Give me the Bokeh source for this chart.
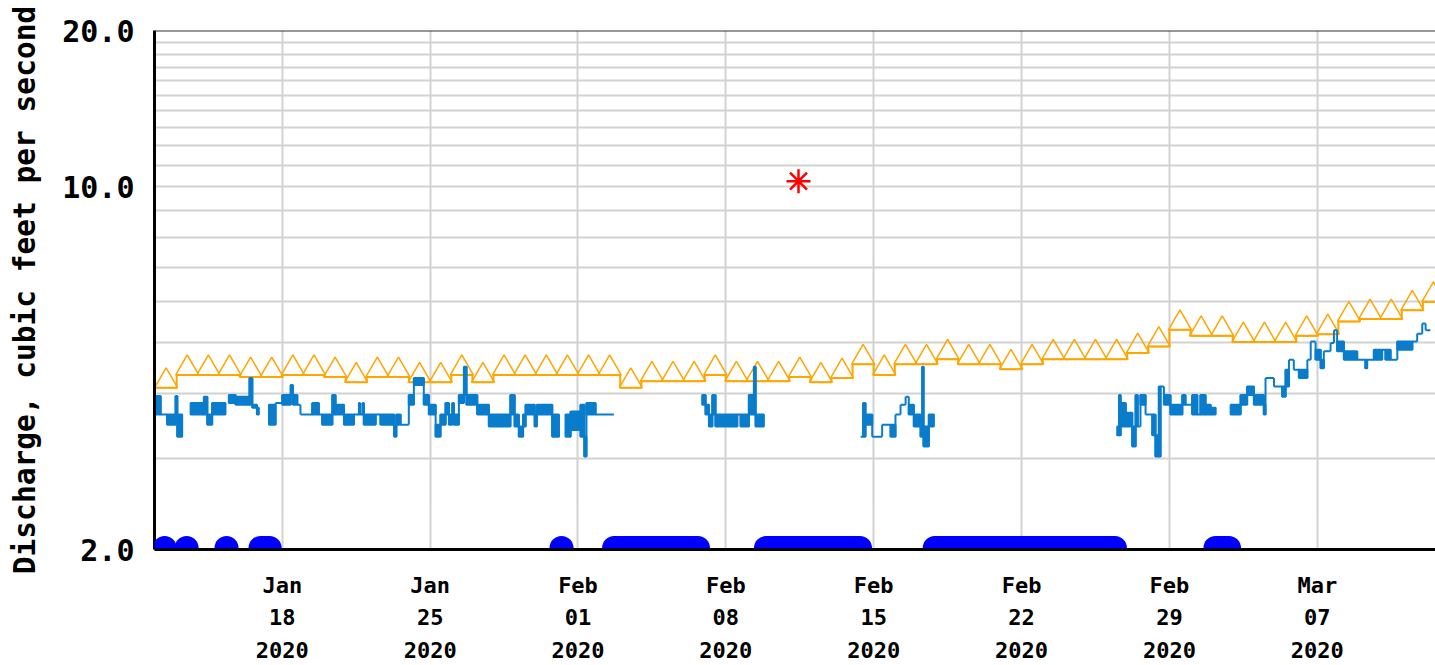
import math
import numpy as np
from bokeh.plotting import figure
from bokeh.models import FixedTicker, NumeralTickFormatter, Span, BoxAnnotation
from bokeh.embed import file_html
from bokeh.resources import INLINE

nan = float("nan")

# ---------------- data ----------------
START_DATE = "2020-01-12"          # x = days since this date (00:00)
x_tick_days = [6, 13, 20, 27, 34, 41, 48, 55]
x_tick_labels = ["Jan\n18\n2020", "Jan\n25\n2020", "Feb\n01\n2020", "Feb\n08\n2020",
                 "Feb\n15\n2020", "Feb\n22\n2020", "Feb\n29\n2020", "Mar\n07\n2020"]
y_tick_values = [2, 10, 20]
y_grid_values = [3, 4, 5, 6, 7, 8, 9, 10, 11, 12, 13, 14, 15, 16, 17, 18, 19]
y_title = "Discharge, cubic feet per second"

# daily median discharge (orange triangles), one value per day from Jan 12
median_day = list(range(61))
median_cfs = [4.10, 4.34, 4.34, 4.34, 4.30, 4.30, 4.34, 4.34, 4.30, 4.20,
              4.30, 4.30, 4.20, 4.20, 4.34, 4.20, 4.34, 4.34, 4.34, 4.34,
              4.34, 4.34, 4.10, 4.22, 4.22, 4.22, 4.34, 4.22, 4.22, 4.22,
              4.30, 4.20, 4.28, 4.55, 4.34, 4.55, 4.55, 4.65, 4.55, 4.55,
              4.45, 4.55, 4.65, 4.65, 4.65, 4.65, 4.78, 4.92, 5.30, 5.16,
              5.16, 5.02, 5.02, 5.02, 5.16, 5.20, 5.50, 5.56, 5.56, 5.78,
              6.00]

# instantaneous discharge (blue): segment start day, low and high value in that segment
blue_t = [0.00, 0.24, 0.55, 0.95, 1.03, 1.26, 1.66, 2.29, 2.45, 2.68,
          3.31, 3.47, 3.79, 4.45, 4.58, 4.80, 4.89, 5.37, 5.68, 6.00,
          6.40, 6.50, 6.71, 6.86, 7.42, 7.73, 7.89, 8.37, 8.52, 8.92,
          9.39, 9.63, 9.68, 9.80, 9.86, 10.42, 10.65, 11.30, 11.40, 11.60,
          11.99, 12.23, 12.70, 12.94, 13.26, 13.49, 13.73, 13.89, 14.05, 14.12,
          14.36, 14.60, 14.72, 15.23, 15.78, 16.80, 17.00, 17.20, 17.40, 17.52,
          17.95, 18.05, 18.78, 19.10, 19.41, 19.65, 20.12, 20.30, 20.40, 20.83,
          21.70, 25.88, 26.04, 26.20, 26.36, 26.51, 27.54, 27.70, 28.09, 28.33,
          28.41, 28.80, 33.38, 33.50, 33.61, 33.93, 34.40, 34.80, 35.03, 35.27,
          35.51, 35.66, 35.90, 36.22, 36.30, 36.36, 36.61, 36.85, 45.53, 45.62,
          45.69, 45.93, 46.24, 46.40, 46.50, 46.63, 46.87, 47.19, 47.34, 47.50,
          47.58, 47.74, 48.05, 48.61, 48.76, 49.08, 49.32, 49.47, 49.71, 49.95,
          50.19, 50.90, 51.37, 51.68, 52.00, 52.47, 52.55, 52.95, 53.34, 53.50,
          53.66, 53.89, 54.13, 54.53, 54.69, 54.92, 55.16, 55.31, 55.63, 55.79,
          55.94, 56.26, 56.89, 57.28, 57.36, 57.68, 58.07, 58.23, 58.47, 58.79,
          59.50, 59.73, 59.97, 60.13, 60.36]
blue_lo = [3.64, 3.64, 3.48, 3.64, 3.30, nan, 3.64, 3.64, 3.48, 3.64,
           nan, 3.83, 3.80, 3.80, 3.75, 3.64, nan, 3.48, 3.83, 3.80,
           3.97, 3.80, 3.80, 3.64, 3.64, 3.64, 3.48, 3.64, 3.64, 3.48,
           3.64, 3.64, 3.64, 3.64, 3.48, 3.64, 3.48, 3.30, 3.48, 3.48,
           3.80, 4.15, 3.80, 3.64, 3.30, 3.48, 3.64, 3.48, 3.64, 3.48,
           3.83, 3.97, 3.80, 3.64, 3.45, 3.64, 3.45, 3.30, 3.45, 3.64,
           3.45, 3.64, 3.30, nan, 3.30, 3.40, 3.30, 3.02, 3.64, 3.64,
           nan, 3.80, 3.64, 3.45, 3.64, 3.45, 3.64, 3.45, 3.64, 3.64,
           3.45, nan, 3.30, 3.30, 3.48, 3.30, 3.48, 3.30, 3.64, 3.80,
           3.94, 3.64, 3.45, 3.30, 3.45, 3.16, 3.45, nan, 3.32, 3.32,
           3.45, 3.45, 3.16, 3.45, 3.45, 3.80, 3.64, 3.32, 3.02, 3.02,
           4.12, 3.80, 3.64, 3.80, 3.80, 3.64, 3.64, 3.64, 3.64, 3.64,
           nan, 3.64, 3.80, 3.97, 3.80, 3.64, 4.28, 4.12, 3.94, 4.12,
           4.64, 4.44, 4.28, 4.64, 5.03, 4.64, 4.47, 4.82, 5.00, 5.29,
           4.82, 4.64, 4.64, 4.47, 4.64, 4.64, 4.85, 4.64, 4.64, 4.85,
           5.03, 5.21, 5.45, 5.29, nan]
blue_hi = [3.95, 3.64, 3.64, 3.95, 3.64, nan, 3.83, 3.94, 3.64, 3.83,
           nan, 3.97, 3.94, 4.28, 3.80, 3.75, nan, 3.80, 3.83, 3.97,
           4.15, 3.97, 3.80, 3.64, 3.83, 3.64, 3.64, 3.97, 3.80, 3.64,
           3.64, 3.83, 3.64, 3.83, 3.64, 3.64, 3.64, 3.48, 3.64, 3.48,
           3.97, 4.28, 3.97, 3.80, 3.48, 3.64, 3.83, 3.64, 3.83, 3.64,
           3.97, 4.50, 3.97, 3.80, 3.64, 3.97, 3.64, 3.45, 3.64, 3.80,
           3.64, 3.80, 3.64, nan, 3.64, 3.69, 3.80, 3.30, 3.83, 3.64,
           nan, 3.97, 3.80, 3.64, 3.97, 3.64, 3.64, 3.64, 3.97, 4.50,
           3.64, nan, 3.30, 3.83, 3.64, 3.30, 3.48, 3.48, 3.64, 3.80,
           3.94, 3.80, 3.64, 3.45, 4.50, 3.45, 3.64, nan, 3.45, 3.97,
           3.83, 3.67, 3.45, 3.97, 3.45, 3.97, 3.64, 3.64, 3.32, 4.12,
           4.12, 3.97, 3.80, 3.97, 3.80, 3.97, 3.64, 3.97, 3.80, 3.75,
           nan, 3.80, 3.97, 4.12, 3.97, 3.80, 4.28, 4.12, 4.12, 4.44,
           4.64, 4.44, 4.44, 4.64, 5.03, 4.85, 4.64, 4.82, 5.00, 5.29,
           5.03, 4.82, 4.64, 4.64, 4.64, 4.85, 4.85, 4.85, 4.64, 5.03,
           5.03, 5.21, 5.45, 5.29, nan]

# periods flagged at the bottom of the chart (blue dots), first and last dot centre
flag_start = [0.43, 1.47, 3.36, 4.97, 19.22, 21.71, 28.90, 36.89, 50.18]
flag_end = [0.43, 1.47, 3.36, 5.40, 19.22, 25.68, 33.35, 45.42, 50.82]

# single red asterisk (peak)
peak_day = [30.44]
peak_cfs = [10.25]

# ---------------- styling ----------------
FONT = "DejaVu Sans Mono"
BLUE = "#0a7ccc"
ORANGE = "#ffa500"
DOT_BLUE = "#0000ff"
GRID = "#d2d2d2"

W, H = 1435, 665
BORDER_LEFT, BORDER_TOP, BORDER_BOTTOM = 154, 30, 115
FRAME_W = W - BORDER_LEFT
FRAME_H = H - BORDER_TOP - BORDER_BOTTOM
PX_PER_DAY = 21.122
X0 = -0.05
X1 = X0 + FRAME_W / PX_PER_DAY
Y0, Y1 = 2.0, 20.0
PX_PER_DECADE = FRAME_H / math.log10(Y1 / Y0)

p = figure(width=W, height=H, output_backend="svg", toolbar_location=None,
           y_axis_type="log", x_range=(X0, X1), y_range=(Y0, Y1),
           min_border_left=BORDER_LEFT, min_border_right=0,
           min_border_top=BORDER_TOP, min_border_bottom=BORDER_BOTTOM)
p.outline_line_color = None
p.background_fill_color = "white"
p.border_fill_color = "white"

# axes
xa = p.xaxis[0]
xa.ticker = FixedTicker(ticks=x_tick_days)
xa.major_label_overrides = dict(zip(x_tick_days, x_tick_labels))
xa.major_tick_in = 0
xa.major_tick_out = 0
xa.minor_tick_line_color = None
xa.axis_line_color = "black"
xa.axis_line_width = 3
xa.major_label_text_font = FONT
xa.major_label_text_font_style = "bold"
xa.major_label_text_font_size = "22px"
xa.major_label_text_line_height = 1.3
xa.major_label_text_color = "black"
xa.major_label_standoff = 23

ya = p.yaxis[0]
ya.ticker = FixedTicker(ticks=y_tick_values)
ya.formatter = NumeralTickFormatter(format="0.0")
ya.major_tick_in = 0
ya.major_tick_out = 0
ya.minor_tick_line_color = None
ya.axis_line_color = "black"
ya.axis_line_width = 3
ya.major_label_text_font = FONT
ya.major_label_text_font_style = "bold"
ya.major_label_text_font_size = "30px"
ya.major_label_text_color = "black"
ya.major_label_standoff = 20
ya.axis_label = y_title
ya.axis_label_text_font = FONT
ya.axis_label_text_font_style = "bold"
ya.axis_label_text_font_size = "29.5px"
ya.axis_label_text_color = "black"
ya.axis_label_standoff = 17

p.xgrid.grid_line_color = GRID
p.xgrid.grid_line_width = 2
p.ygrid.ticker = FixedTicker(ticks=y_grid_values)
p.ygrid.grid_line_color = GRID
p.ygrid.grid_line_width = 2

p.add_layout(Span(location=Y1, dimension="width", line_color="#333333", line_width=2))

# orange median step line + triangles sitting on it
sx = median_day + [median_day[-1] + 1]
sy = median_cfs + [median_cfs[-1]]
p.step(sx, sy, mode="after", line_color=ORANGE, line_width=2)
TRI = 23
tri_shift = 10 ** ((TRI * math.sqrt(3) / 2 / 3) / PX_PER_DECADE)
p.scatter([d + 0.5 for d in median_day], [v * tri_shift for v in median_cfs],
          marker="triangle", size=TRI, fill_color=None, line_color=ORANGE, line_width=1.5)

# blue instantaneous discharge
t = np.array(blue_t)
lo = np.array(blue_lo)
hi = np.array(blue_hi)
ok = ~np.isnan(lo[:-1])
p.quad(left=t[:-1][ok], right=t[1:][ok], bottom=lo[:-1][ok], top=hi[:-1][ok],
       fill_color=BLUE, line_color=BLUE, line_width=2)
cx, cy0, cy1 = [], [], []
for i in range(len(t) - 2):
    if not (np.isnan(lo[i]) or np.isnan(lo[i + 1])):
        cx.append(t[i + 1])
        cy0.append(min(lo[i], lo[i + 1]))
        cy1.append(max(hi[i], hi[i + 1]))
p.segment(cx, cy0, cx, cy1, line_color=BLUE, line_width=2)

# red asterisk
p.scatter(peak_day, peak_cfs, marker="asterisk", size=24, line_color="#ff0000", line_width=2.5)

# flagged periods as rounded blue bars on the bottom axis
DOT = 24
r_days = DOT / 2 / PX_PER_DAY
lift = 1.5
bot = Y0 * 10 ** ((lift - DOT / 2) / PX_PER_DECADE)
top = Y0 * 10 ** ((lift + DOT / 2) / PX_PER_DECADE)
for a, b in zip(flag_start, flag_end):
    p.add_layout(BoxAnnotation(left=a - r_days, right=b + r_days, bottom=bot, top=top,
                               fill_color=DOT_BLUE, fill_alpha=1.0, line_color=None,
                               border_radius=DOT // 2, level="annotation"))
p.add_layout(Span(location=Y0, dimension="width", line_color="black", line_width=3, level="overlay"))

open("out.html", "w").write(file_html(p, INLINE))
